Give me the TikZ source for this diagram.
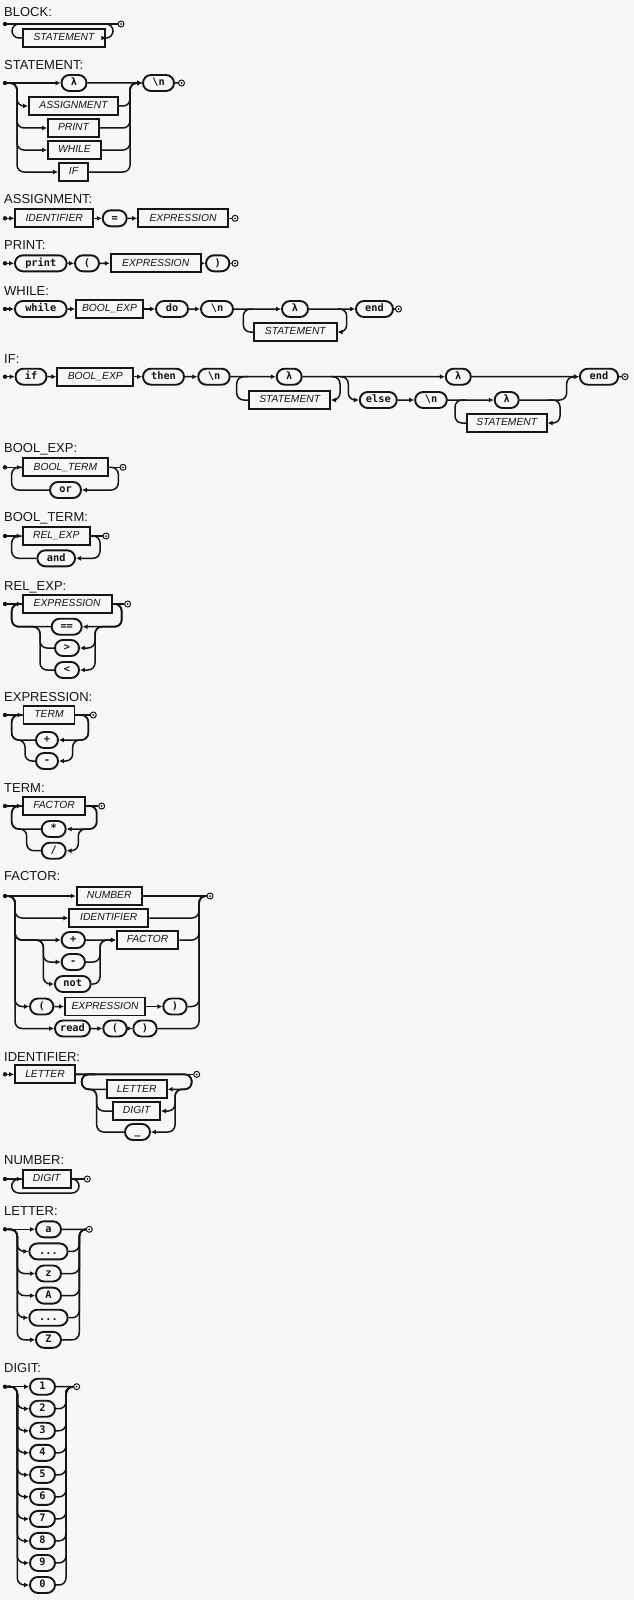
\documentclass[tikz,border=0pt]{standalone}
\usepackage{fontspec}
\setmainfont{Liberation Sans}
\newfontfamily\termfamily{DejaVu Sans Mono}
\usetikzlibrary{arrows.meta,shapes.misc}
\definecolor{ink}{HTML}{151515}
\definecolor{paper}{HTML}{F7F7F7}
\tikzset{
  rrtitle/.style={anchor=base west, inner sep=0pt, text=ink, font=\fontsize{13}{15}\selectfont},
  nt/.style={draw=ink, fill=paper, line width=1.9pt, rectangle, inner sep=0pt,
    minimum height=18pt, minimum width=#1, text height=7.4pt, text depth=2pt,
    text=ink, font=\fontsize{10.3}{12}\selectfont\itshape},
  tm/.style={draw=ink, fill=paper, line width=1.9pt, rounded rectangle, inner sep=0pt,
    minimum height=16pt, minimum width=#1, text height=7.4pt, text depth=2pt,
    text=ink, font=\fontsize{10.3}{12}\selectfont\termfamily\bfseries},
  track/.style={draw=ink, line width=1.5pt, rounded corners=7pt},
  arr/.style={track, -{Latex[length=5pt,width=5pt]}},
  sdot/.style={circle, fill=ink, inner sep=0pt, minimum size=4.4pt},
  edot/.style={circle, draw=ink, fill=paper, line width=1pt, inner sep=0pt, minimum size=6pt},
}
\newcommand\finishmark[2]{\node[edot] (#1) at (#2) {}; \fill[ink] (#1.center) circle (1pt);}
\begin{document}
\begin{tikzpicture}[x=1pt,y=-1pt]
\fill[paper] (0,0) rectangle (634,1600);
\useasboundingbox (0,0) rectangle (634,1600);

% ---------------- BLOCK
\node[rrtitle] (tBlock) at (4,17) {BLOCK:};
\node[sdot] (b0) at (5,24) {};
\node[nt=82.6pt] (b1) at (64,38) {STATEMENT};
\finishmark{b9}{121,24}
\coordinate (bL) at (12,24);
\coordinate (bR) at (113,24);
\draw[track] (b0) -- (b9);
\draw[arr] (b1.north east |- bR) -- (bR) |- (b1.east);
\draw[track] (b1.west) -| (bL) -- (b1.north west |- bL);

% ---------------- STATEMENT
\node[rrtitle] (tStatement) at (4,69.7) {STATEMENT:};
\node[sdot] (s0) at (5,83) {};
\node[tm=25pt] (s1) at (74,83) {λ};
\node[nt=89pt] (s2) at (73.5,106) {ASSIGNMENT};
\node[nt=51pt] (s3) at (73.5,128) {PRINT};
\node[nt=53pt] (s4) at (74.5,150) {WHILE};
\node[nt=29pt] (s5) at (73.5,172) {IF};
\node[tm=31pt] (s6) at (158.5,83) {\textbackslash n};
\finishmark{s9}{181.5,83}
\coordinate (sL) at (17,83);
\coordinate (sR) at (130,83);
\draw[arr] (s0) -- (s1);
\draw[arr] (s1) -- (s6);
\foreach \r in {s2,s3,s4,s5}{
  \draw[arr] (s0) -- (sL) |- (\r.west);
  \draw[arr] (\r.east) -| (sR) -- (s6.west);
}
\draw[track] (s6) -- (s9);

% ---------------- ASSIGNMENT
\node[rrtitle] (tAssign) at (4,203) {ASSIGNMENT:};
\node[sdot] (a0) at (5,218.3) {};
\node[nt=77.7pt] (a1) at (54.2,218.3) {IDENTIFIER};
\node[tm=24pt] (a2) at (114.7,218.3) {=};
\node[nt=90pt] (a3) at (183,218.3) {EXPRESSION};
\finishmark{a9}{235,218.3}
\draw[arr] (a0) -- (a1);
\draw[arr] (a1) -- (a2);
\draw[arr] (a2) -- (a3);
\draw[track] (a3) -- (a9);

% ---------------- PRINT
\node[rrtitle] (tPrint) at (4,249.5) {PRINT:};
\node[sdot] (p0) at (5,263.3) {};
\node[tm=51.7pt] (p1) at (40.8,263.3) {print};
\node[tm=24pt] (p2) at (87,263.3) {(};
\node[nt=90pt] (p3) at (155.7,263.3) {EXPRESSION};
\node[tm=23.3pt] (p4) at (217.7,263.3) {)};
\finishmark{p9}{235,263.3}
\draw[arr] (p0) -- (p1);
\draw[arr] (p1) -- (p2);
\draw[arr] (p2) -- (p3);
\draw[arr] (p3) -- (p4);
\draw[track] (p4) -- (p9);

% ---------------- WHILE
\node[rrtitle] (tWhile) at (4,295.5) {WHILE:};
\node[sdot] (w0) at (5,309) {};
\node[tm=51.7pt] (w1) at (40.8,309) {while};
\node[nt=67pt] (w2) at (109.5,309) {BOOL\_EXP};
\node[tm=32pt] (w3) at (172,309) {do};
\node[tm=32pt] (w4) at (217,309) {\textbackslash n};
\node[tm=26pt] (w5) at (295,309) {λ};
\node[nt=82.6pt] (w6) at (295.3,332) {STATEMENT};
\node[tm=37pt] (w7) at (374.5,309) {end};
\finishmark{w9}{398.5,309}
\coordinate (wL) at (243.3,309);
\coordinate (wR) at (346.7,309);
\draw[arr] (w0) -- (w1);
\draw[arr] (w1) -- (w2);
\draw[arr] (w2) -- (w3);
\draw[arr] (w3) -- (w4);
\draw[arr] (w4) -- (w5);
\draw[arr] (w5) -- (w7);
\draw[track] (w7) -- (w9);
\draw[arr] (w6.north east |- wR) -- (wR) |- (w6.east);
\draw[track] (w6.west) -| (wL) -- (w6.north west |- wL);

% ---------------- IF
\node[rrtitle] (tIf) at (4,363.5) {IF:};
\node[sdot] (i0) at (5,376.7) {};
\node[tm=31pt] (i1) at (31,376.7) {if};
\node[nt=76pt] (i2) at (95.3,376.7) {BOOL\_EXP};
\node[tm=41pt] (i3) at (163.5,376.7) {then};
\node[tm=31.5pt] (i4) at (214,376.7) {\textbackslash n};
\node[tm=25pt] (i5) at (289.2,376.7) {λ};
\node[nt=80.7pt] (i6) at (289.7,400) {STATEMENT};
\node[tm=25pt] (i7) at (458.3,376.7) {λ};
\node[tm=37pt] (i8) at (378.3,400) {else};
\node[tm=31.7pt] (i10) at (431,400) {\textbackslash n};
\node[tm=24pt] (i11) at (506.7,400) {λ};
\node[nt=80pt] (i12) at (506.7,423) {STATEMENT};
\node[tm=38.3pt] (i13) at (599,376.7) {end};
\finishmark{i9}{625,376.7}
\coordinate (iL1) at (236.7,376.7);
\coordinate (iR1) at (340,376.7);
\coordinate (iE1) at (348.3,376.7);
\coordinate (iL2) at (455,400);
\coordinate (iR2) at (560,400);
\coordinate (iE2) at (566.7,376.7);
\draw[arr] (i0) -- (i1);
\draw[arr] (i1) -- (i2);
\draw[arr] (i2) -- (i3);
\draw[arr] (i3) -- (i4);
\draw[arr] (i4) -- (i5);
\draw[arr] (i5) -- (i7);
\draw[arr] (i7) -- (i13);
\draw[track] (i13) -- (i9);
\draw[arr] (i6.north east |- iR1) -- (iR1) |- (i6.east);
\draw[track] (i6.west) -| (iL1) -- (i6.north west |- iL1);
\draw[arr] (iR1) -- (iE1) |- (i8.west);
\draw[arr] (i8) -- (i10);
\draw[arr] (i10) -- (i11);
\draw[arr] (i12.north east |- iR2) -- (iR2) |- (i12.east);
\draw[track] (i12.west) -| (iL2) -- (i12.north west |- iL2);
\draw[arr] (i11.east) -| (iE2) -- (i13.west);

% ---------------- BOOL_EXP
\node[rrtitle] (tBoolExp) at (4,452) {BOOL\_EXP:};
\node[sdot] (e0) at (5,467.3) {};
\node[nt=85.6pt] (e1) at (65.5,467.3) {BOOL\_TERM};
\node[tm=31pt] (e2) at (65.5,490) {or};
\finishmark{e9}{123,467.3}
\coordinate (eL) at (11.7,467.3);
\coordinate (eR) at (118.3,467.3);
\draw[arr] (e0) -- (e1);
\draw[track] (e1) -- (e9);
\draw[arr] (e1.east) -- (eR) |- (e2.east);
\draw[track] (e2.west) -| (eL) -- (e1.west);

% ---------------- BOOL_TERM
\node[rrtitle] (tBoolTerm) at (4,521.5) {BOOL\_TERM:};
\node[sdot] (f0) at (5,536) {};
\node[nt=67.3pt] (f1) at (56.3,536) {REL\_EXP};
\node[tm=37.7pt] (f2) at (56.2,558.3) {and};
\finishmark{f9}{106,536}
\coordinate (fL) at (11.7,536);
\coordinate (fR) at (100,536);
\draw[arr] (f0) -- (f1);
\draw[track] (f1) -- (f9);
\draw[arr] (f1.east) -- (fR) |- (f2.east);
\draw[track] (f2.west) -| (fL) -- (f1.west);

% ---------------- REL_EXP
\node[rrtitle] (tRelExp) at (4,590) {REL\_EXP:};
\node[sdot] (g0) at (5,604) {};
\node[nt=89pt] (g1) at (67.2,604) {EXPRESSION};
\node[tm=30pt] (g2) at (66.7,626.7) {==};
\node[tm=24pt] (g3) at (67,648) {>};
\node[tm=24pt] (g4) at (67,670) {<};
\finishmark{g9}{127.7,604}
\coordinate (gL) at (11.7,604);
\coordinate (gR) at (121.7,604);
\coordinate (gl) at (40,626.7);
\coordinate (gr) at (95,626.7);
\draw[arr] (g0) -- (g1);
\draw[track] (g1) -- (g9);
\draw[arr] (g1.east) -- (gR) |- (g2.east);
\draw[arr] (g1.east) -- (gR) |- (gr) |- (g3.east);
\draw[arr] (g1.east) -- (gR) |- (gr) |- (g4.east);
\draw[track] (g2.west) -| (gL) -- (g1.west);
\draw[track] (g3.west) -| (gl) -| (gL) -- (g1.west);
\draw[track] (g4.west) -| (gl) -| (gL) -- (g1.west);

% ---------------- EXPRESSION
\node[rrtitle] (tExpression) at (4,701) {EXPRESSION:};
\node[sdot] (h0) at (5,715) {};
\node[nt=51pt] (h1) at (49,715) {TERM};
\node[tm=22pt] (h2) at (47,740) {+};
\node[tm=22pt] (h3) at (47,761) {-};
\finishmark{h9}{93.3,715}
\coordinate (hL) at (11.7,715);
\coordinate (hR) at (88.3,715);
\coordinate (hl) at (25,740);
\coordinate (hr) at (72.7,740);
\draw[arr] (h0) -- (h1);
\draw[track] (h1) -- (h9);
\draw[arr] (h1.east) -- (hR) |- (h2.east);
\draw[arr] (h1.east) -- (hR) |- (hr) |- (h3.east);
\draw[track] (h2.west) -| (hL) -- (h1.west);
\draw[track] (h3.west) -| (hl) -| (hL) -- (h1.west);

% ---------------- TERM
\node[rrtitle] (tTerm) at (4,792) {TERM:};
\node[sdot] (k0) at (5,806) {};
\node[nt=62.3pt] (k1) at (54,806) {FACTOR};
\node[tm=24pt] (k2) at (53.7,829) {*};
\node[tm=24pt] (k3) at (53.7,850.7) {/};
\finishmark{k9}{101.7,806}
\coordinate (kL) at (11.7,806);
\coordinate (kR) at (96.7,806);
\coordinate (kl) at (26.7,829);
\coordinate (kr) at (78.3,829);
\draw[arr] (k0) -- (k1);
\draw[track] (k1) -- (k9);
\draw[arr] (k1.east) -- (kR) |- (k2.east);
\draw[arr] (k1.east) -- (kR) |- (kr) |- (k3.east);
\draw[track] (k2.west) -| (kL) -- (k1.west);
\draw[track] (k3.west) -| (kl) -| (kL) -- (k1.west);

% ---------------- FACTOR
\node[rrtitle] (tFactor) at (4,880) {FACTOR:};
\node[sdot] (m0) at (5,896) {};
\node[nt=65pt] (m1) at (109.2,896) {NUMBER};
\node[nt=79pt] (m2) at (108.8,918) {IDENTIFIER};
\node[tm=23.3pt] (m3) at (73.3,940) {+};
\node[nt=61.6pt] (m4) at (147.5,940) {FACTOR};
\node[tm=23.3pt] (m5) at (73.3,962) {-};
\node[tm=35.7pt] (m6) at (72.8,984) {not};
\node[tm=23.3pt] (m7) at (41.7,1006.5) {(};
\node[nt=80pt] (m8) at (105,1006.5) {EXPRESSION};
\node[tm=23.4pt] (m10) at (175,1006.5) {)};
\node[tm=35pt] (m11) at (72.5,1028.5) {read};
\node[tm=23.4pt] (m12) at (115,1028.5) {(};
\node[tm=23.4pt] (m13) at (145,1028.5) {)};
\finishmark{m9}{210,896}
\coordinate (mL) at (15,896);
\coordinate (mR) at (199,896);
\coordinate (ml) at (43.3,940);
\coordinate (mr) at (100,940);
\draw[arr] (m0) -- (m1);
\draw[track] (m1) -- (m9);
\foreach \r in {m2,m3,m7,m11}{
  \draw[arr] (m0) -- (mL) |- (\r.west);
}
\draw[arr] (m0) -- (mL) |- (ml) |- (m5.west);
\draw[arr] (m0) -- (mL) |- (ml) |- (m6.west);
\draw[arr] (m3) -- (m4);
\draw[arr] (m5.east) -| (mr) -- (m4.west);
\draw[arr] (m6.east) -| (mr) -- (m4.west);
\draw[arr] (m7) -- (m8);
\draw[arr] (m8) -- (m10);
\draw[arr] (m11) -- (m12);
\draw[arr] (m12) -- (m13);
\foreach \r in {m2,m4,m10,m13}{
  \draw[track] (\r.east) -| (mR) -- (m9);
}

% ---------------- IDENTIFIER
\node[rrtitle] (tIdent) at (4,1061.5) {IDENTIFIER:};
\node[sdot] (n0) at (5,1074.3) {};
\node[nt=60pt] (n1) at (45,1074.3) {LETTER};
\node[nt=60pt] (n2) at (136.7,1089.3) {LETTER};
\node[nt=46.7pt] (n3) at (136.7,1111) {DIGIT};
\node[tm=25pt] (n4) at (137.5,1132) {\_};
\finishmark{n9}{196.7,1074.3}
\coordinate (nL) at (81.7,1074.3);
\coordinate (nR) at (191.7,1074.3);
\coordinate (nl) at (96.7,1089.3);
\coordinate (nr) at (175,1089.3);
\coordinate (nJ) at (95,1074.3);
\draw[arr] (n0) -- (n1);
\draw[track] (n1) -- (n9);
\draw[arr] (n1.east) -- (nR) |- (n2.east);
\draw[arr] (n1.east) -- (nR) |- (nr) |- (n3.east);
\draw[arr] (n1.east) -- (nR) |- (nr) |- (n4.east);
\draw[track] (n2.west) -| (nL) -- (nJ);
\draw[track] (n3.west) -| (nl) -| (nL) -- (nJ);
\draw[track] (n4.west) -| (nl) -| (nL) -- (nJ);

% ---------------- NUMBER
\node[rrtitle] (tNumber) at (4,1164.5) {NUMBER:};
\node[sdot] (q0) at (5,1179) {};
\node[nt=48pt] (q1) at (46.7,1179) {DIGIT};
\finishmark{q9}{87.3,1179}
\coordinate (qL) at (11.7,1179);
\coordinate (qR) at (79,1179);
\coordinate (qB) at (45,1193);
\draw[arr] (q0) -- (q1);
\draw[track] (q1) -- (q9);
\draw[track] (q1.east) -- (qR) |- (qB) -| (qL) -- (q1.west);

% ---------------- LETTER
\node[rrtitle] (tLetter) at (4,1215.5) {LETTER:};
\node[sdot] (L0) at (5,1229.3) {};
\node[tm=25pt] (La) at (48.5,1229.3) {a};
\node[tm=38.3pt] (Lb) at (48.5,1251.4) {...};
\node[tm=25pt] (Lc) at (48.5,1273.5) {z};
\node[tm=25pt] (Ld) at (48.5,1295.6) {A};
\node[tm=38.3pt] (Le) at (48.5,1317.7) {...};
\node[tm=25pt] (Lf) at (48.5,1339.8) {Z};
\finishmark{L9}{89.3,1229.3}
\coordinate (LL) at (17.3,1229.3);
\coordinate (LR) at (79.3,1229.3);
\draw[arr] (L0) -- (La);
\draw[track] (La) -- (L9);
\foreach \r in {Lb,Lc,Ld,Le,Lf}{
  \draw[arr] (L0) -- (LL) |- (\r.west);
  \draw[track] (\r.east) -| (LR) -- (L9);
}

% ---------------- DIGIT
\node[rrtitle] (tDigit) at (4,1372.7) {DIGIT:};
\node[sdot] (Dstart) at (5,1386.7) {};
\foreach \d [count=\k from 0] in {1,2,3,4,5,6,7,8,9,0}{
  \node[tm=25pt] (Dg\d) at (42.5,1386.7+22.03*\k) {\d};
}
\finishmark{Dend}{76.7,1386.7}
\coordinate (DL) at (17.3,1386.7);
\coordinate (DR) at (66,1386.7);
\draw[arr] (Dstart) -- (Dg1);
\draw[track] (Dg1) -- (Dend);
\foreach \d in {2,3,4,5,6,7,8,9,0}{
  \draw[arr] (Dstart) -- (DL) |- (Dg\d.west);
  \draw[track] (Dg\d.east) -| (DR) -- (Dend);
}
\end{tikzpicture}
\end{document}
